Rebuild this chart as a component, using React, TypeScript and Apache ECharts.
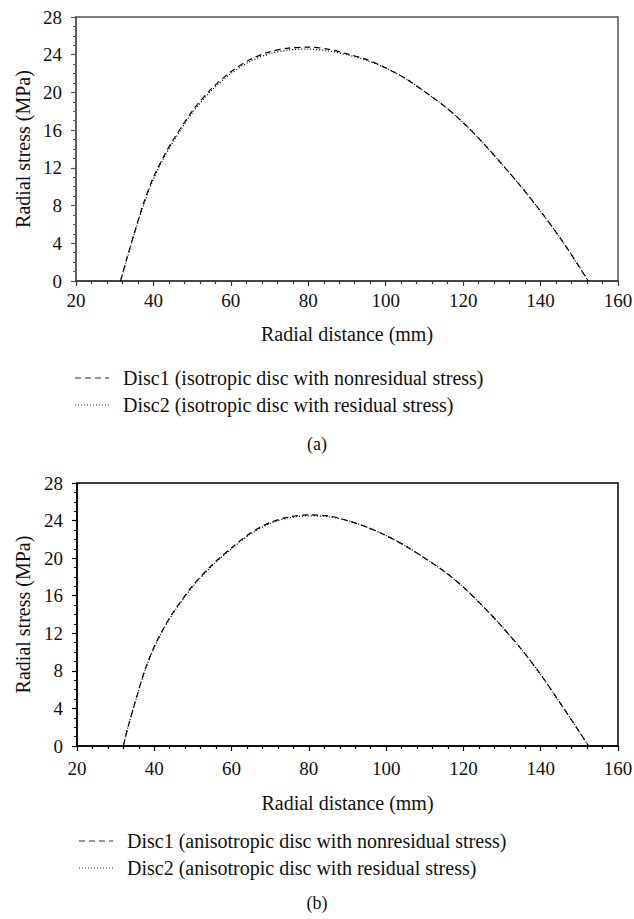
import React, { useEffect, useRef } from "react";
import * as echarts from "echarts";

// ---- data (a): isotropic disc ----
const xA = [31.5, 33, 35, 37.5, 40, 42.5, 45, 50, 55, 60, 65, 70, 75, 80, 85, 90, 95, 100, 105, 110, 115, 120, 125, 130, 135, 140, 145, 150, 152.3];
const disc1A = [0, 2.2, 5.0, 8.3, 11.0, 13.1, 14.9, 18.0, 20.4, 22.2, 23.5, 24.3, 24.7, 24.8, 24.6, 24.1, 23.5, 22.6, 21.5, 20.1, 18.6, 16.8, 14.7, 12.4, 10.0, 7.4, 4.6, 1.5, 0];
const disc2A = [0, 2.1, 4.9, 8.1, 10.8, 12.9, 14.7, 17.8, 20.2, 22.0, 23.3, 24.1, 24.5, 24.6, 24.4, 24.0, 23.4, 22.6, 21.5, 20.1, 18.6, 16.8, 14.7, 12.4, 10.0, 7.4, 4.6, 1.5, 0];

// ---- data (b): anisotropic disc ----
const xB = [32, 33, 35, 37.5, 40, 42.5, 45, 50, 55, 60, 65, 70, 75, 80, 85, 90, 95, 100, 105, 110, 115, 120, 125, 130, 135, 140, 145, 150, 152.4];
const disc1B = [0, 1.7, 4.6, 8.0, 10.6, 12.6, 14.3, 17.1, 19.3, 21.1, 22.7, 23.8, 24.4, 24.6, 24.5, 24.0, 23.3, 22.4, 21.3, 20.0, 18.6, 16.9, 14.9, 12.7, 10.3, 7.6, 4.6, 1.5, 0];
const disc2B = [0, 1.7, 4.6, 7.9, 10.5, 12.5, 14.2, 17.0, 19.2, 21.0, 22.6, 23.7, 24.3, 24.5, 24.4, 24.0, 23.3, 22.4, 21.3, 20.0, 18.6, 16.9, 14.9, 12.7, 10.3, 7.6, 4.6, 1.5, 0];

const namesA = ["Disc1 (isotropic disc with nonresidual stress)", "Disc2 (isotropic disc with residual stress)"];
const namesB = ["Disc1 (anisotropic disc with nonresidual stress)", "Disc2 (anisotropic disc with residual stress)"];
const xTitle = "Radial distance (mm)";
const yTitle = "Radial stress (MPa)";
const captions = ["(a)", "(b)"];

const FONT = "Liberation Serif";
const DASH = [6, 4];
const DOT = [1, 2];

function pairs(xs: number[], ys: number[]) {
  return xs.map((x, i) => [x, ys[i]]);
}

function xAxisCfg(gridIndex: number, color: string, labelMargin: number, nameGap: number) {
  return {
    type: "value",
    gridIndex,
    min: 20,
    max: 160,
    interval: 20,
    name: xTitle,
    nameLocation: "middle",
    nameGap,
    nameMoveOverlap: false,
    nameTextStyle: { fontFamily: FONT, fontSize: 20, color: "#111" },
    axisLine: { show: true, lineStyle: { color, width: 1.5 } },
    axisTick: { show: true, inside: false, length: 5, lineStyle: { color, width: 1.2 } },
    minorTick: { show: true, splitNumber: 5, length: 3, lineStyle: { color, width: 1.2 } },
    splitLine: { show: false },
    axisLabel: { fontFamily: FONT, fontSize: 19, color: "#111", margin: labelMargin },
  };
}

function yAxisCfg(gridIndex: number, color: string, nameGap: number) {
  return {
    type: "value",
    gridIndex,
    min: 0,
    max: 28,
    interval: 4,
    name: yTitle,
    nameLocation: "middle",
    nameGap,
    nameMoveOverlap: false,
    nameTextStyle: { fontFamily: FONT, fontSize: 20, color: "#111" },
    axisLine: { show: true, lineStyle: { color, width: 1.5 } },
    axisTick: { show: true, inside: false, length: 5, lineStyle: { color, width: 1.2 } },
    minorTick: { show: true, splitNumber: 4, length: 3, lineStyle: { color, width: 1 } },
    splitLine: { show: false },
    axisLabel: { fontFamily: FONT, fontSize: 19, color: "#111", margin: 14 },
  };
}

function lineSeries(name: string, data: number[][], idx: number, dash: number[]) {
  return {
    type: "line",
    name,
    xAxisIndex: idx,
    yAxisIndex: idx,
    data,
    smooth: 0.3,
    symbol: "none",
    showSymbol: false,
    lineStyle: { color: "#000", width: 1.2, type: dash },
    itemStyle: { color: "#000" },
  };
}

function legendItems(names: string[], x0: number, x1: number, tx: number, ys: number[]) {
  const dashes = [DASH, DOT];
  const out: any[] = [];
  names.forEach((n, i) => {
    out.push({
      type: "line",
      shape: { x1: x0, y1: ys[i], x2: x1, y2: ys[i] },
      style: { stroke: "#333", lineWidth: 1.2, lineDash: dashes[i] },
    });
    out.push({
      type: "text",
      x: tx,
      y: ys[i],
      style: { text: n, fontFamily: FONT, fontSize: 20, fill: "#111", verticalAlign: "middle", align: "left" },
    });
  });
  return out;
}

export default function App() {
  const ref = useRef<HTMLDivElement>(null);
  useEffect(() => {
    if (!ref.current) return;
    const chart = echarts.init(ref.current, undefined, { renderer: "svg" });
    chart.setOption({
      animation: false,
      backgroundColor: "#fff",
      textStyle: { fontFamily: FONT },
      title: [
        { text: captions[0], left: "center", top: 435, padding: 0, textStyle: { fontFamily: FONT, fontSize: 18, fontWeight: "normal", color: "#111" } },
        { text: captions[1], left: "center", top: 894, padding: 0, textStyle: { fontFamily: FONT, fontSize: 18, fontWeight: "normal", color: "#111" } },
      ],
      grid: [
        { left: 76, top: 17, width: 542, height: 264, outerBoundsMode: "none", containLabel: false, show: true, borderColor: "#555", borderWidth: 1.5, backgroundColor: "transparent" },
        { left: 77, top: 483, width: 541, height: 263, outerBoundsMode: "none", containLabel: false, show: true, borderColor: "#000", borderWidth: 1.5, backgroundColor: "transparent" },
      ],
      xAxis: [xAxisCfg(0, "#333", 10, 43), xAxisCfg(1, "#000", 13, 47)],
      yAxis: [yAxisCfg(0, "#555", 43), yAxisCfg(1, "#000", 44)],
      graphic: [
        ...legendItems(namesA, 75, 109, 123, [378, 405]),
        ...legendItems(namesB, 79, 113, 127, [841, 868]),
      ],
      series: [
        lineSeries(namesA[0], pairs(xA, disc1A), 0, DASH),
        lineSeries(namesA[1], pairs(xA, disc2A), 0, DOT),
        lineSeries(namesB[0], pairs(xB, disc1B), 1, DASH),
        lineSeries(namesB[1], pairs(xB, disc2B), 1, DOT),
      ],
    });
    return () => chart.dispose();
  }, []);
  return <div ref={ref} style={{ position: "fixed", left: 0, top: 0, width: 634, height: 919 }} />;
}
